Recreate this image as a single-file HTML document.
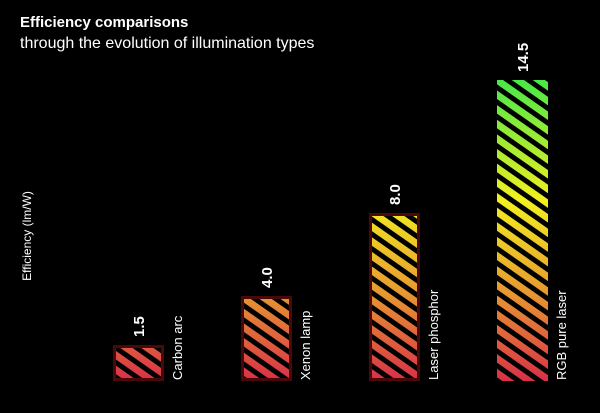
<!DOCTYPE html>
<html><head><style>
body{margin:0;background:#000;width:600px;height:408px;overflow:hidden}
</style></head><body>
<svg width="600" height="408" xmlns="http://www.w3.org/2000/svg" font-family="Liberation Sans, sans-serif">
<defs>
<linearGradient id="g" gradientUnits="userSpaceOnUse" x1="0" y1="80" x2="0" y2="381">
<stop offset="0" stop-color="#48e848"/>
<stop offset="0.4" stop-color="#f2f020"/>
<stop offset="0.7" stop-color="#e89a30"/>
<stop offset="1" stop-color="#d83048"/>
</linearGradient>
<pattern id="s" patternUnits="userSpaceOnUse" width="12" height="12" patternTransform="rotate(35)">
<rect width="12" height="5" fill="#000"/>
</pattern>
</defs>
<rect width="600" height="408" fill="#000"/>
<text x="20" y="27" fill="#fff" font-size="15" font-weight="bold">Efficiency comparisons</text>
<text x="20" y="48" fill="#fff" font-size="16">through the evolution of illumination types</text>
<text transform="translate(31,236) rotate(-90)" fill="#fff" font-size="12" text-anchor="middle">Efficiency (lm/W)</text>
<g>
<rect x="113" y="345" width="51" height="36" fill="url(#g)"/>
<rect x="113" y="345" width="51" height="36" fill="url(#s)"/>
<rect x="114.5" y="346.5" width="48" height="33" fill="none" stroke="#4a0808" stroke-width="3"/>
<rect x="241" y="296" width="51" height="85" fill="url(#g)"/>
<rect x="241" y="296" width="51" height="85" fill="url(#s)"/>
<rect x="242.5" y="297.5" width="48" height="82" fill="none" stroke="#4a0808" stroke-width="3"/>
<rect x="369" y="213" width="51" height="168" fill="url(#g)"/>
<rect x="369" y="213" width="51" height="168" fill="url(#s)"/>
<rect x="370.5" y="214.5" width="48" height="165" fill="none" stroke="#4a0808" stroke-width="3"/>
<rect x="497" y="80" width="51" height="301" fill="url(#g)"/>
<rect x="497" y="80" width="51" height="301" fill="url(#s)"/>
</g>
<g fill="#fff" font-size="15" font-weight="bold">
<text transform="translate(144,337) rotate(-90)">1.5</text>
<text transform="translate(272,288) rotate(-90)">4.0</text>
<text transform="translate(400,205) rotate(-90)">8.0</text>
<text transform="translate(528,72) rotate(-90)">14.5</text>
</g>
<g fill="#fff" font-size="13">
<text transform="translate(182,380) rotate(-90)">Carbon arc</text>
<text transform="translate(310,380) rotate(-90)">Xenon lamp</text>
<text transform="translate(438,380) rotate(-90)">Laser phosphor</text>
<text transform="translate(566,380) rotate(-90)">RGB pure laser</text>
</g>
</svg>
</body></html>
